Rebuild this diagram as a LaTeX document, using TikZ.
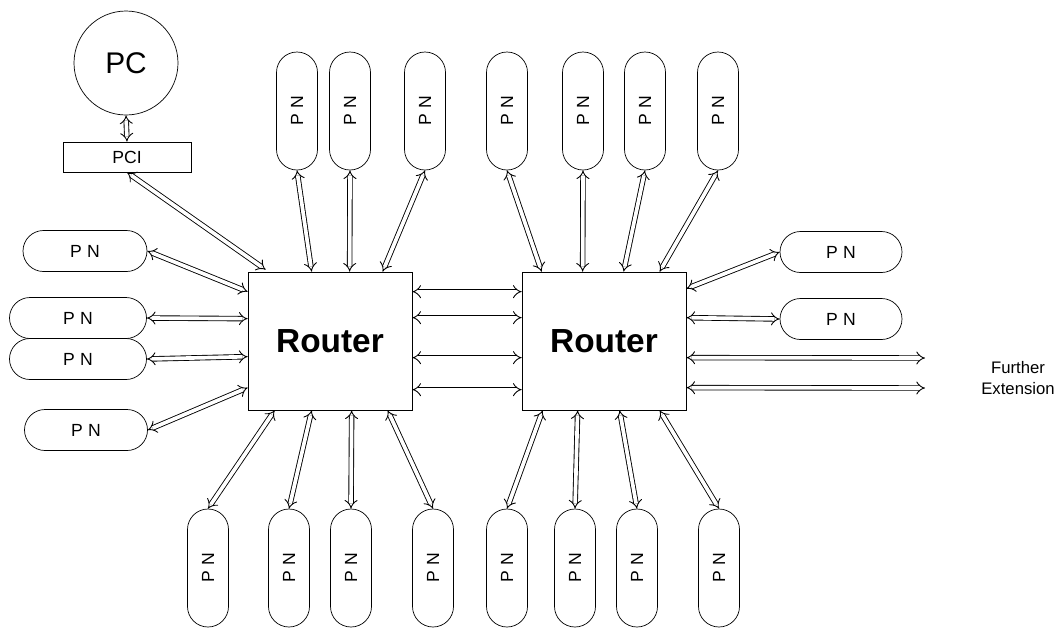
\documentclass[tikz,border=0pt]{standalone}
\usepackage{fontspec}
\setmainfont{Liberation Sans}
\usetikzlibrary{arrows.meta,calc}
\tikzset{
  blk/.style={draw, thin, align=center, inner sep=0pt},
  router/.style={blk, minimum width=32.8mm, minimum height=27.6mm,
                 font=\fontsize{19}{22}\selectfont\bfseries},
  pnh/.style={blk, rounded corners=4.1mm, minimum height=8.2mm,
              font=\fontsize{10}{12}\selectfont},
  pnv/.style={pnh, minimum width=8.2mm, minimum height=23.6mm},
  link/.style={double, double distance=2.1pt, line width=0.5pt,
               {Implies[scale=1.9]}-{Implies[scale=1.9]}},
  note/.style={font=\fontsize{9.5}{12}\selectfont, align=center, inner sep=1pt},
}
\newcommand{\pnlabel}{P\hspace{0.3em}N}

\begin{document}
\begin{tikzpicture}[x=0.2mm, y=-0.2mm]
\useasboundingbox (0,0) rectangle (1058,628);

% host side
\node[blk, circle, minimum size=20.8mm, font=\fontsize{17}{19}\selectfont] (pc) at (126,63) {PC};
\node[blk, minimum width=25.6mm, minimum height=6mm, font=\fontsize{10}{12}\selectfont] (pci) at (127,157) {PCI};

% the two routers
\node[router] (r1) at (330,341) {Router};
\node[router] (r2) at (604,341) {Router};

% processing nodes
\foreach \n/\x in {1/297,2/350,3/425,4/507,5/583,6/645,7/718}
  \node[pnv] (pt\n) at (\x,111) {\rotatebox{90}{\pnlabel}};
\foreach \n/\x in {1/208,2/289,3/351,4/433,5/507,6/575,7/637,8/719}
  \node[pnv] (pb\n) at (\x,568) {\rotatebox{90}{\pnlabel}};
\node[pnh, minimum width=24.8mm] (pl1) at (85,251) {\pnlabel};
\node[pnh, minimum width=27.4mm] (pl2) at (78,318) {\pnlabel};
\node[pnh, minimum width=27.4mm] (pl3) at (78,359) {\pnlabel};
\node[pnh, minimum width=24.6mm] (pl4) at (86,430) {\pnlabel};
\node[pnh, minimum width=24.4mm] (pr1) at (841,252) {\pnlabel};
\node[pnh, minimum width=24.4mm] (pr2) at (841,319) {\pnlabel};

\node[note] (ext) at (1018,378) {Further\\Extension};
\coordinate (ext1) at (925,358);
\coordinate (ext2) at (925,388);

% links
\draw[link] (pc.south) -- (pci.north);
\draw[link] (pci.south) -- ($(r1.north west)+(18,-2)$);
\foreach \n/\dx in {1/64,2/102,3/135}
  \draw[link] (pt\n.south) -- ($(r1.north west)+(\dx,0)$);
\foreach \n/\dx in {4/20,5/61,6/102,7/138}
  \draw[link] (pt\n.south) -- ($(r2.north west)+(\dx,0)$);
\foreach \n/\dx in {1/27,2/64,3/104,4/140}
  \draw[link] (pb\n.north) -- ($(r1.south west)+(\dx,0)$);
\foreach \n/\dx in {5/21,6/56,7/98,8/138}
  \draw[link] (pb\n.north) -- ($(r2.south west)+(\dx,0)$);
\foreach \n/\dy in {1/20,2/47,3/85,4/116}
  \draw[link] (pl\n.east) -- ($(r1.north west)+(0,\dy)$);
\foreach \dy in {20,46,86,118}
  \draw[link] ($(r1.north east)+(0,\dy)$) -- ($(r2.north west)+(0,\dy)$);
\draw[link] ($(r2.north east)+(0,17)$) -- (pr1.west);
\draw[link] ($(r2.north east)+(0,46)$) -- (pr2.west);
\draw[link] ($(r2.north east)+(0,86)$) -- (ext1);
\draw[link] ($(r2.north east)+(0,116)$) -- (ext2);

\end{tikzpicture}
\end{document}
